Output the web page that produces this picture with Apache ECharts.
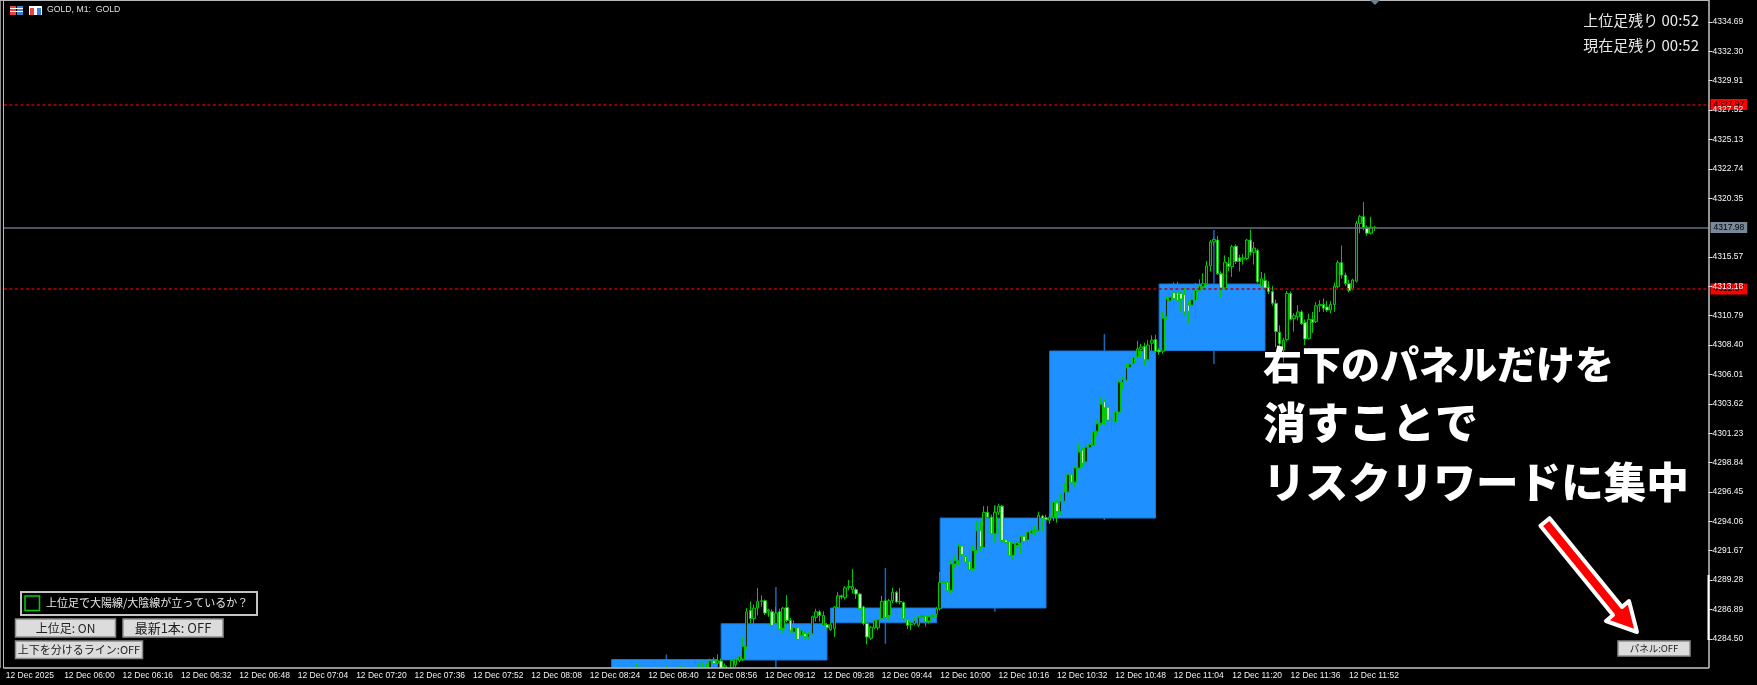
<!DOCTYPE html>
<html>
<head>
<meta charset="utf-8">
<style>
  html, body { margin: 0; padding: 0; background: #000; }
  #chart { width: 1757px; height: 685px; }
</style>
<script src="https://cdn.jsdelivr.net/npm/echarts@6/dist/echarts.min.js"></script>
</head>
<body>
<div id="chart"></div>
<script>
// x axis tick labels, one per 16 bars
var tickLabels = ['12 Dec 2025', '12 Dec 06:00', '12 Dec 06:16', '12 Dec 06:32', '12 Dec 06:48', '12 Dec 07:04',
  '12 Dec 07:20', '12 Dec 07:36', '12 Dec 07:52', '12 Dec 08:08', '12 Dec 08:24', '12 Dec 08:40', '12 Dec 08:56',
  '12 Dec 09:12', '12 Dec 09:28', '12 Dec 09:44', '12 Dec 10:00', '12 Dec 10:16', '12 Dec 10:32', '12 Dec 10:48',
  '12 Dec 11:04', '12 Dec 11:20', '12 Dec 11:36', '12 Dec 11:52']

// price scale (4317.96 sits under the current price tag)
var priceTicks = [4334.69, 4332.30, 4329.91, 4327.52, 4325.13, 4322.74, 4320.35, 4315.57, 4313.18, 4310.79,
  4308.40, 4306.01, 4303.62, 4301.23, 4298.84, 4296.45, 4294.06, 4291.67, 4289.28, 4286.89, 4284.50]
var currentPrice = 4317.98
var redLevels = [4327.97, 4312.97]

// upper timeframe (M30) candles
var boxTimes = ['08:30', '09:00', '09:30', '10:00', '10:30', '11:00']
var boxOpen = [4279.00, 4282.78, 4285.81, 4287.01, 4294.33, 4307.96]
var boxClose = [4282.82, 4285.73, 4287.01, 4294.33, 4307.92, 4313.37]
var boxLow = [4278.00, 4281.50, 4284.10, 4286.70, 4294.17, 4306.86]
var boxHigh = [4283.23, 4288.72, 4290.26, 4295.39, 4309.30, 4317.77]

// M1 candles: open, close, low, high. First one is 08:37
var candleStart = '08:37'
var candles = [
  [4281.6, 4281.9, 4281.3, 4282.45], [4281.7, 4281.5, 4281.2, 4282.25], [4281.5, 4281.7, 4281.2, 4281.95],
  [4281.6, 4281.4, 4281.1, 4281.9], [4281.4, 4281.6, 4281.1, 4281.95], [4281.6, 4281.9, 4281.3, 4282.65],
  [4281.9, 4281.6, 4281.4, 4282.0], [4281.6, 4281.5, 4281.2, 4281.95], [4281.5, 4281.8, 4281.3, 4282.35],
  [4281.8, 4281.7, 4281.4, 4282.05], [4281.7, 4281.9, 4281.5, 4282.4], [4281.9, 4281.8, 4281.5, 4282.5],
  [4281.8, 4281.9, 4281.5, 4282.35], [4281.9, 4281.7, 4281.4, 4282.25], [4281.7, 4281.5, 4281.3, 4281.95],
  [4281.5, 4281.7, 4281.2, 4282.0], [4281.7, 4282.0, 4281.5, 4282.75], [4282.0, 4281.8, 4281.6, 4282.55],
  [4281.8, 4282.0, 4281.6, 4282.6], [4282.0, 4281.9, 4281.6, 4282.5], [4281.9, 4282.7, 4281.8, 4282.9],
  [4282.7, 4282.5, 4282.2, 4283.0], [4282.5, 4282.75, 4282.3, 4283.25], [4282.7, 4282.1, 4281.6, 4282.9],
  [4282.1, 4282.3, 4281.8, 4282.5], [4282.0, 4281.8, 4281.5, 4282.15], [4281.9, 4282.75, 4281.7, 4282.8],
  [4282.4, 4282.85, 4282.2, 4283.0], [4282.75, 4283.05, 4282.6, 4283.1], [4282.85, 4283.9, 4282.7, 4284.6],
  [4283.85, 4286.7, 4283.7, 4287.0], [4286.8, 4286.15, 4285.75, 4287.55], [4286.15, 4287.0, 4285.7, 4287.3],
  [4287.0, 4287.55, 4286.4, 4288.65], [4287.55, 4287.6, 4287.1, 4288.05], [4287.6, 4286.6, 4286.45, 4287.7],
  [4286.75, 4286.85, 4286.3, 4286.95], [4286.7, 4285.6, 4285.5, 4286.9], [4285.75, 4286.6, 4285.5, 4287.1],
  [4286.7, 4285.3, 4285.2, 4286.95], [4285.35, 4287.0, 4285.0, 4287.1], [4287.05, 4286.0, 4285.85, 4288.05],
  [4286.0, 4285.2, 4285.0, 4286.2], [4285.05, 4285.4, 4284.9, 4286.0], [4285.4, 4284.45, 4284.2, 4285.5],
  [4284.8, 4285.15, 4284.65, 4285.3], [4284.9, 4284.7, 4284.5, 4285.1], [4284.65, 4284.9, 4284.4, 4285.05],
  [4284.9, 4286.3, 4284.85, 4286.4], [4286.25, 4286.7, 4285.9, 4286.95], [4286.7, 4286.4, 4285.9, 4286.85],
  [4285.6, 4286.4, 4285.4, 4286.75], [4285.65, 4285.4, 4285.3, 4285.8], [4285.25, 4285.65, 4285.15, 4285.85],
  [4285.35, 4287.1, 4284.65, 4287.15], [4287.05, 4288.0, 4286.95, 4288.3], [4288.0, 4287.9, 4287.7, 4288.1],
  [4287.85, 4288.65, 4287.7, 4288.8], [4288.75, 4288.7, 4288.45, 4289.3], [4288.5, 4288.75, 4288.2, 4290.2],
  [4288.5, 4288.15, 4287.75, 4288.65], [4288.15, 4286.95, 4286.85, 4288.25], [4287.1, 4285.75, 4285.6, 4287.2],
  [4285.75, 4284.65, 4284.05, 4285.85], [4284.55, 4285.45, 4284.4, 4285.55], [4285.4, 4286.0, 4285.3, 4286.1],
  [4285.4, 4286.05, 4285.2, 4286.15], [4286.15, 4287.55, 4286.0, 4288.0], [4287.6, 4286.25, 4285.8, 4287.8],
  [4286.4, 4287.6, 4286.0, 4287.75], [4287.6, 4288.3, 4287.4, 4288.65], [4288.3, 4287.5, 4287.4, 4288.4],
  [4287.55, 4287.5, 4287.3, 4288.65], [4287.45, 4286.15, 4286.0, 4287.55], [4286.05, 4285.6, 4285.3, 4286.25],
  [4285.65, 4285.7, 4285.2, 4285.9], [4285.75, 4286.0, 4285.6, 4286.2], [4285.6, 4286.25, 4285.45, 4286.4],
  [4286.3, 4286.4, 4286.1, 4286.55], [4286.35, 4285.9, 4285.5, 4286.5], [4285.95, 4286.3, 4285.75, 4286.45],
  [4286.3, 4286.4, 4286.2, 4286.6], [4286.5, 4286.95, 4286.3, 4287.1], [4286.95, 4289.1, 4286.8, 4289.95],
  [4289.05, 4289.1, 4288.8, 4289.4], [4289.1, 4288.45, 4288.1, 4289.7], [4288.45, 4290.6, 4288.2, 4290.9],
  [4290.6, 4290.85, 4290.3, 4291.25], [4290.85, 4292.05, 4290.5, 4292.3], [4292.05, 4291.35, 4290.5, 4292.8],
  [4291.2, 4290.75, 4290.2, 4291.4], [4290.8, 4290.15, 4289.9, 4291.45], [4290.2, 4291.7, 4290.0, 4292.1],
  [4291.7, 4293.3, 4291.5, 4294.1], [4293.3, 4292.0, 4291.65, 4294.05], [4291.95, 4294.8, 4291.55, 4295.3],
  [4294.8, 4294.4, 4293.75, 4295.3], [4294.4, 4293.05, 4292.5, 4294.6], [4293.05, 4294.8, 4292.35, 4295.3],
  [4294.8, 4295.3, 4294.6, 4295.5], [4295.3, 4292.5, 4292.4, 4295.4], [4292.55, 4292.35, 4292.2, 4294.15],
  [4292.4, 4291.3, 4291.1, 4292.55], [4291.3, 4292.25, 4290.9, 4292.35], [4292.1, 4292.3, 4291.9, 4292.45],
  [4292.3, 4292.8, 4291.45, 4292.9], [4292.85, 4292.45, 4292.15, 4293.0], [4292.55, 4293.2, 4291.85, 4293.3],
  [4293.1, 4293.3, 4292.8, 4293.75], [4293.3, 4293.35, 4292.9, 4293.75], [4293.3, 4294.55, 4293.2, 4294.85],
  [4294.5, 4294.3, 4293.25, 4294.6], [4294.35, 4294.2, 4293.95, 4294.6], [4294.15, 4294.4, 4293.85, 4294.7],
  [4294.4, 4295.6, 4294.1, 4295.75], [4295.55, 4294.85, 4293.95, 4295.8], [4294.85, 4295.7, 4294.5, 4296.3],
  [4295.7, 4296.45, 4295.6, 4297.1], [4296.45, 4297.85, 4296.3, 4298.2], [4297.85, 4297.25, 4297.0, 4298.5],
  [4297.25, 4298.4, 4296.8, 4298.55], [4298.4, 4299.7, 4298.3, 4300.45], [4299.85, 4298.8, 4298.5, 4300.05],
  [4298.9, 4300.1, 4298.6, 4300.7], [4300.05, 4300.3, 4299.95, 4300.45], [4300.25, 4301.35, 4300.15, 4301.85],
  [4301.4, 4302.0, 4301.1, 4302.35], [4302.05, 4303.6, 4301.85, 4304.15], [4303.8, 4303.3, 4301.9, 4304.05],
  [4303.35, 4302.3, 4302.0, 4303.5], [4302.35, 4302.3, 4301.4, 4302.5], [4302.15, 4302.95, 4301.4, 4303.1],
  [4302.95, 4305.4, 4302.85, 4305.6], [4305.35, 4305.6, 4304.8, 4305.85], [4305.55, 4306.55, 4305.4, 4306.95],
  [4306.6, 4306.85, 4306.45, 4307.4], [4306.9, 4307.4, 4306.75, 4307.85], [4307.45, 4308.1, 4307.3, 4308.75],
  [4308.05, 4308.25, 4307.45, 4308.5], [4308.3, 4307.2, 4306.75, 4308.6], [4307.2, 4308.4, 4307.05, 4308.8],
  [4308.55, 4308.8, 4307.6, 4309.2], [4308.85, 4307.9, 4307.75, 4309.25], [4308.0, 4307.85, 4307.6, 4308.15],
  [4307.9, 4310.6, 4307.7, 4311.1], [4310.7, 4312.15, 4310.5, 4312.35], [4312.0, 4312.3, 4311.25, 4313.4],
  [4312.65, 4312.2, 4311.5, 4313.5], [4312.65, 4312.05, 4311.9, 4313.55], [4312.6, 4312.15, 4311.15, 4312.75],
  [4312.5, 4311.1, 4310.8, 4313.05], [4311.65, 4311.15, 4310.2, 4312.0], [4311.65, 4312.1, 4311.4, 4312.6],
  [4312.05, 4312.85, 4310.3, 4313.45], [4312.85, 4313.2, 4312.7, 4313.75], [4313.15, 4313.4, 4313.0, 4314.25],
  [4313.4, 4314.85, 4313.3, 4315.25], [4314.85, 4316.8, 4314.4, 4316.95], [4316.8, 4317.0, 4316.45, 4317.15],
  [4316.95, 4314.2, 4314.1, 4317.3], [4314.2, 4313.05, 4312.25, 4314.4], [4313.05, 4315.15, 4312.9, 4315.7],
  [4315.05, 4314.8, 4314.4, 4315.55], [4314.8, 4316.4, 4313.95, 4316.55], [4316.45, 4315.2, 4315.0, 4316.6],
  [4315.5, 4315.2, 4314.4, 4315.75], [4315.4, 4315.5, 4314.95, 4315.8], [4315.45, 4316.95, 4315.3, 4317.05],
  [4316.95, 4315.95, 4315.7, 4317.8], [4315.95, 4316.3, 4314.95, 4316.8], [4316.1, 4313.55, 4313.45, 4316.25],
  [4313.2, 4313.8, 4312.95, 4314.35], [4313.65, 4313.05, 4312.9, 4314.25], [4313.1, 4312.75, 4312.55, 4313.6],
  [4312.75, 4311.8, 4311.6, 4313.2], [4311.8, 4309.5, 4308.25, 4312.1], [4309.45, 4308.5, 4307.6, 4310.0],
  [4308.0, 4308.8, 4307.0, 4309.0], [4308.85, 4312.6, 4308.7, 4312.8], [4312.6, 4310.5, 4310.4, 4312.75],
  [4310.55, 4310.8, 4309.5, 4311.0], [4310.7, 4311.1, 4310.4, 4311.65], [4311.1, 4310.15, 4310.05, 4311.25],
  [4310.25, 4308.9, 4308.4, 4310.5], [4308.95, 4310.5, 4308.85, 4310.95], [4310.5, 4310.25, 4309.4, 4311.1],
  [4310.3, 4311.6, 4310.2, 4311.9], [4311.6, 4311.7, 4311.1, 4312.05], [4311.7, 4311.4, 4311.1, 4312.2],
  [4311.5, 4311.25, 4311.1, 4312.0], [4311.25, 4311.7, 4311.0, 4312.0], [4311.7, 4313.2, 4311.1, 4313.5],
  [4313.15, 4315.1, 4313.0, 4315.3], [4315.1, 4314.1, 4313.8, 4316.5], [4314.1, 4313.4, 4313.2, 4314.3],
  [4313.4, 4312.85, 4312.7, 4313.7], [4312.95, 4313.7, 4312.85, 4313.8], [4313.6, 4318.3, 4313.5, 4318.5],
  [4318.3, 4318.85, 4317.5, 4319.0], [4318.85, 4317.95, 4317.75, 4320.05], [4317.95, 4317.5, 4317.3, 4318.15],
  [4317.5, 4318.0, 4317.4, 4318.85], [4317.98, 4317.98, 4317.7, 4318.1]
]

// texts drawn on the chart
var headerText = 'GOLD, M1:  GOLD'
var timerTexts = ['上位足残り 00:52', '現在足残り 00:52']
var signalText = '上位足で大陽線/大陰線が立っているか？'
var noteLines = ['右下のパネルだけを', '消すことで', 'リスクリワードに集中']

// one category per minute, from 05:44
var firstMinute = 5 * 60 + 44
var barCount = 467
var categories = []
for (var i = 0; i < barCount; i++) {
  var m = firstMinute + i
  categories.push(('0' + Math.floor(m / 60)).slice(-2) + ':' + ('0' + m % 60).slice(-2))
}

function isTick(index) {
  return index % 16 === 0 && index / 16 < tickLabels.length
}

function renderBox(params, api) {
  var start = api.value(0)
  var top = api.coord([start, Math.max(api.value(1), api.value(2))])
  var bottom = api.coord([start + 29, Math.min(api.value(1), api.value(2))])
  var high = api.coord([start + 15, api.value(4)])
  var low = api.coord([start + 15, api.value(3)])
  return {
    type: 'group',
    children: [{
      type: 'line',
      shape: { x1: high[0], y1: high[1], x2: low[0], y2: low[1] },
      style: { stroke: '#1668bb', lineWidth: 1.5 }
    }, {
      type: 'rect',
      shape: { x: top[0], y: top[1], width: bottom[0] - top[0], height: bottom[1] - top[1] },
      style: { fill: '#1e90ff', stroke: '#1a78d4', lineWidth: 1 }
    }]
  }
}

function button(x, y, w, h, label, fontSize) {
  return [{
    type: 'rect', z: 100,
    shape: { x: x, y: y, width: w, height: h },
    style: { fill: '#dcdcdc', stroke: '#8c8c8c', lineWidth: 1.5 }
  }, {
    type: 'text', z: 101, x: x + w / 2, y: y + h / 2,
    style: { text: label, fill: '#222', font: fontSize + 'px "Noto Sans CJK JP"', align: 'center', verticalAlign: 'middle' }
  }]
}

var graphics = [
  // strip under the plot, hides candle parts that run below the scale
  { type: 'rect', z: 99, shape: { x: 0, y: 668, width: 1757, height: 17 }, style: { fill: '#000' } },
  // window frame
  { type: 'rect', z: 100, shape: { x: 0, y: 0, width: 1, height: 668 }, style: { fill: '#8a8a8a' } },
  { type: 'rect', z: 100, shape: { x: 3, y: 0, width: 1, height: 668 }, style: { fill: '#b8b8b8' } },
  { type: 'rect', z: 100, shape: { x: 0, y: 0, width: 1709, height: 1 }, style: { fill: '#b8b8b8' } },
  { type: 'rect', z: 100, shape: { x: 1707.5, y: 575, width: 2, height: 65 }, style: { fill: '#fff' } },
  { type: 'polygon', z: 100, shape: { points: [[1370, 0], [1380, 0], [1375, 5]] }, style: { fill: '#71808f' } },
  // header icons
  { type: 'rect', z: 100, shape: { x: 10, y: 6, width: 6, height: 9 }, style: { fill: '#e8433a' } },
  { type: 'rect', z: 100, shape: { x: 17, y: 6, width: 6, height: 9 }, style: { fill: '#3b7fd0' } },
  { type: 'rect', z: 100, shape: { x: 10, y: 8, width: 13, height: 1 }, style: { fill: '#fff' } },
  { type: 'rect', z: 100, shape: { x: 10, y: 11, width: 13, height: 1 }, style: { fill: '#fff' } },
  { type: 'rect', z: 100, shape: { x: 29, y: 6, width: 13, height: 9 }, style: { fill: '#fff' } },
  { type: 'rect', z: 100, shape: { x: 30, y: 8, width: 4, height: 7 }, style: { fill: '#e8433a' } },
  { type: 'rect', z: 100, shape: { x: 37, y: 8, width: 4, height: 7 }, style: { fill: '#3b7fd0' } },
  { type: 'text', z: 100, x: 47, y: 10, style: { text: headerText, fill: '#e0e0e0', font: '8.7px "Liberation Sans"', verticalAlign: 'middle' } },
  // timers
  { type: 'text', z: 100, x: 1699, y: 20.5, style: { text: timerTexts[0], fill: '#e8e8e8', font: '15px "Noto Sans CJK JP"', align: 'right', verticalAlign: 'middle' } },
  { type: 'text', z: 100, x: 1699, y: 45, style: { text: timerTexts[1], fill: '#e8e8e8', font: '15px "Noto Sans CJK JP"', align: 'right', verticalAlign: 'middle' } },
  // signal box
  { type: 'rect', z: 100, shape: { x: 21, y: 592, width: 236, height: 23 }, style: { fill: '#000', stroke: '#c4c4c4', lineWidth: 2 } },
  { type: 'rect', z: 101, shape: { x: 25, y: 596, width: 14.5, height: 14.5 }, style: { fill: '#000', stroke: '#00d000', lineWidth: 1.5 } },
  { type: 'text', z: 101, x: 46, y: 602.5, style: { text: signalText, fill: '#e8e8e8', font: '11px "Noto Sans CJK JP"', verticalAlign: 'middle' } },
  // arrow
  {
    type: 'polygon', z: 102,
    shape: { points: [[1549.6, 518.2], [1622, 607], [1629, 601], [1637, 632], [1606, 621], [1613, 615], [1540.4, 525.8]] },
    style: { fill: '#ff0000', stroke: '#fff', lineWidth: 4, lineJoin: 'round' }
  },
  // note
  { type: 'text', z: 103, x: 1263, y: 364, style: { text: noteLines[0], fill: '#fff', font: '900 39px "Noto Sans CJK JP"', verticalAlign: 'middle' } },
  { type: 'text', z: 103, x: 1263, y: 423, style: { text: noteLines[1], fill: '#fff', font: '900 43px "Noto Sans CJK JP"', verticalAlign: 'middle' } },
  { type: 'text', z: 103, x: 1263, y: 482, style: { text: noteLines[2], fill: '#fff', font: '900 42.6px "Noto Sans CJK JP"', verticalAlign: 'middle' } }
].concat(
  button(15.5, 619, 100, 18, '上位足: ON', 12),
  button(123, 619, 100, 18, '最新1本: OFF', 13),
  button(15.5, 641, 127, 17.5, '上下を分けるライン:OFF', 11),
  button(1618, 641, 72, 15, 'パネル:OFF', 9.5)
)

var chart = echarts.init(document.getElementById('chart'))
chart.setOption({
  animation: false,
  backgroundColor: '#000',
  grid: { left: 3.9, top: 0, width: 1704.6, height: 667.5 },
  xAxis: {
    type: 'category',
    data: categories,
    boundaryGap: true,
    z: 200,
    axisLine: { lineStyle: { color: '#c4c4c4', width: 1.5 } },
    axisTick: { alignWithLabel: true, interval: function (index) { return isTick(index) }, length: 4, lineStyle: { color: '#e0e0e0' } },
    axisLabel: {
      interval: function (index) { return isTick(index) },
      formatter: function (value, index) { return tickLabels[index / 16] },
      align: 'left',
      margin: 4,
      color: '#f0f0f0',
      fontFamily: 'Liberation Sans',
      fontSize: 8.5
    },
    splitLine: { show: false }
  },
  yAxis: {
    type: 'value',
    position: 'right',
    min: 4282.17,
    max: 4336.48,
    z: 10,
    splitLine: { show: false },
    axisLine: { show: true, onZero: false, lineStyle: { color: '#c4c4c4', width: 1.5 } },
    axisTick: { show: true, customValues: priceTicks, length: 4, lineStyle: { color: '#e0e0e0' } },
    axisLabel: {
      customValues: priceTicks,
      formatter: function (value) { return value.toFixed(2) },
      margin: 4,
      color: '#f8f8f8',
      fontFamily: 'Liberation Sans',
      fontSize: 8.5
    }
  },
  graphic: graphics,
  series: [{
    type: 'custom',
    clip: true,
    z: 2,
    renderItem: renderBox,
    encode: { x: 0, y: [1, 2, 3, 4] },
    data: boxTimes.map(function (t, i) {
      return [categories.indexOf(t), boxOpen[i], boxClose[i], boxLow[i], boxHigh[i]]
    })
  }, {
    type: 'candlestick',
    clip: true,
    z: 3,
    barWidth: 3,
    encode: { x: 0, y: [1, 2, 3, 4] },
    data: candles.map(function (c, i) {
      return [categories.indexOf(candleStart) + i, c[0], c[1], c[2], c[3]]
    }),
    itemStyle: { color: '#003000', color0: '#c8ffc8', borderColor: '#00c800', borderColor0: '#00c800', borderWidth: 1 },
    markLine: {
      silent: true,
      symbol: 'none',
      animation: false,
      precision: 2,
      data: [{
        yAxis: currentPrice,
        lineStyle: { color: '#66727f', width: 1.5, type: 'solid' },
        label: { backgroundColor: '#778899' }
      }].concat(redLevels.map(function (v) {
        return { yAxis: v, lineStyle: { color: '#c00000', width: 1.5, type: [3, 2.5] }, label: { backgroundColor: '#ff0000' } }
      })),
      label: {
        position: 'end',
        distance: 2,
        padding: [1, 3, 1, 3],
        color: '#000',
        fontFamily: 'Liberation Sans',
        fontSize: 8.5,
        formatter: function (p) { return p.value.toFixed(2) }
      }
    }
  }]
})
</script>
</body>
</html>
